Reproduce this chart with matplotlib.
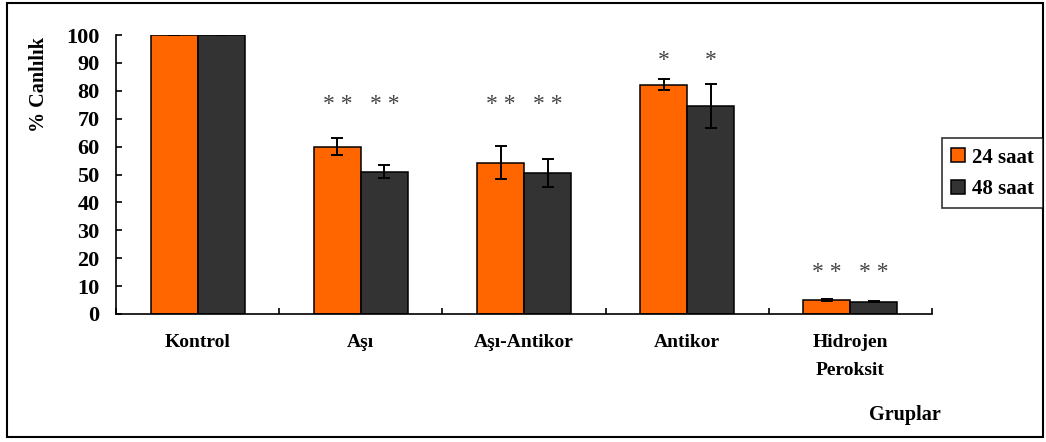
import matplotlib
matplotlib.use("Agg")
import matplotlib.pyplot as plt
import numpy as np
from matplotlib.patches import Rectangle

plt.rcParams['font.family'] = ['Liberation Serif', 'DejaVu Serif']

# group names and viability values (%)
groups = ['Kontrol', 'Aşı', 'Aşı-Antikor', 'Antikor', 'Hidrojen\nPeroksit']
series_names = ['24 saat', '48 saat']
viab_24 = [100.0, 60.0, 54.3, 82.2, 5.0]
viab_48 = [100.0, 51.0, 50.5, 74.6, 4.4]
err_24 = [0.0, 3.1, 6.0, 1.9, 0.2]
err_48 = [0.0, 2.4, 4.9, 7.9, 0.2]

# significance marks and the height at which they are written
marks_24 = ['', '* *', '* *', '*', '* *']
marks_48 = ['', '* *', '* *', '*', '* *']
mark_y = [0, 75, 75, 91, 15]

colors = ['#FF6600', '#333333']

fig = plt.figure(figsize=(10.46, 4.42), dpi=100)
ax = fig.add_axes([0.111, 0.2896, 0.78, 0.6312])

x = np.arange(len(groups))
w = 0.288
err_kw = dict(ecolor='black', elinewidth=1.4, capsize=4.5, capthick=1.4)
ax.bar(x - w / 2, viab_24, w, color=colors[0], edgecolor='black', linewidth=1.1,
       yerr=err_24, error_kw=err_kw, label=series_names[0], zorder=2)
ax.bar(x + w / 2, viab_48, w, color=colors[1], edgecolor='black', linewidth=1.1,
       yerr=err_48, error_kw=err_kw, label=series_names[1], zorder=2)

for i in range(len(groups)):
    if marks_24[i]:
        ax.text(x[i] - w / 2, mark_y[i], marks_24[i], ha='center', va='center',
                fontsize=17, color='#444444')
    if marks_48[i]:
        ax.text(x[i] + w / 2, mark_y[i], marks_48[i], ha='center', va='center',
                fontsize=17, color='#444444')

ax.set_xlim(-0.5, len(groups) - 0.5)
ax.set_ylim(0, 100)
ax.set_yticks(range(0, 101, 10))
ax.tick_params(axis='y', direction='in', length=4, width=1.2, labelsize=16, pad=12)
for lbl in ax.get_yticklabels():
    lbl.set_fontweight('bold')

# group labels sit under the bars, small boundary ticks between groups
ax.set_xticks(np.arange(len(groups) + 1) - 0.5)
ax.set_xticklabels([])
ax.tick_params(axis='x', direction='in', length=4, width=1.2)
for i, name in enumerate(groups):
    ax.text(x[i], -7.3, name, ha='center', va='top', fontsize=14, fontweight='bold',
            linespacing=1.85)

ax.spines['top'].set_visible(False)
ax.spines['right'].set_visible(False)
ax.spines['left'].set_linewidth(1.2)
ax.spines['bottom'].set_linewidth(1.2)

fig.text(0.037, 0.808, '% Canlılık', rotation=90, ha='center', va='center',
         fontsize=14.5, fontweight='bold')
fig.text(0.865, 0.06, 'Gruplar', ha='center', va='center', fontsize=14.5,
         fontweight='bold')

leg = fig.legend(loc='center', bbox_to_anchor=(0.949, 0.608),
                 prop={'weight': 'bold', 'size': 15}, frameon=True, fancybox=False,
                 edgecolor='black', handlelength=0.65, handleheight=0.65,
                 handletextpad=0.35, borderpad=0.45, labelspacing=0.55)
leg.get_frame().set_linewidth(1.2)

# frame around the whole figure
fig.add_artist(Rectangle((0.0067, 0.011), 0.9904, 0.982, transform=fig.transFigure,
                         fill=False, edgecolor='black', linewidth=1.5))

fig.savefig('out.png', dpi=100)
